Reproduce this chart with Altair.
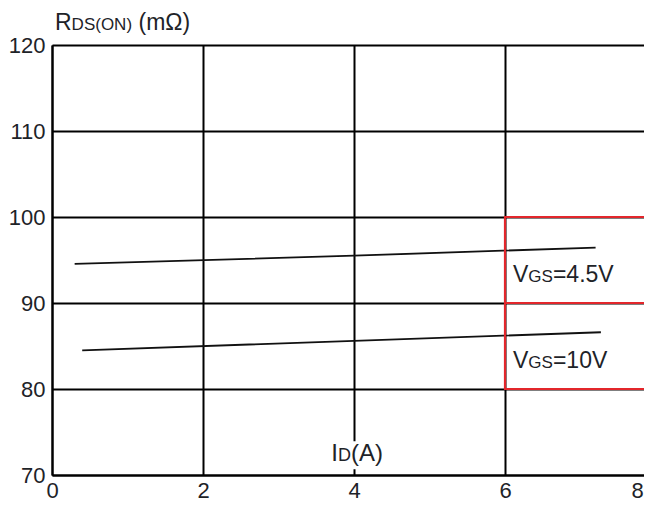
import altair as alt
import pandas as pd

# ---- data ----
id_45 = [0.30, 4.0, 7.20]
r_45 = [94.55, 95.5, 96.45]
id_10 = [0.40, 4.0, 7.27]
r_10 = [84.5, 85.6, 86.6]

x_ticks = [0, 2, 4, 6, 8]
y_ticks = [70, 80, 90, 100, 110, 120]

box_x = [6, 8]
box_y = [80, 100]
box_mid = [90]

# labels: pieces (text, size, extra gap before) anchored at a data point
lab_pieces = [[("V", 23, 0), ("GS", 17, 0), ("=4.5V", 23, 0)],
              [("V", 23, 0), ("GS", 17, 0), ("=10V", 23, 0)]]
lab_x = [6, 6]
lab_y = [92.4, 82.5]

title_pieces = [("R", 23, 0), ("DS(ON)", 17, 0), ("(mΩ)", 23, 6.5)]
title_x, title_y = 0, 120

xlab_pieces = [("I", 24, 0), ("D", 18, 0), ("(A)", 24, 0)]
xlab_x, xlab_y = 3.70, 71.6
xlab_bg = (4.04, 72.3)

FONT = "Liberation Sans"
TXT = "#1e2328"
RED = "#e3262b"

W = {'R': 722, 'D': 722, 'S': 667, '(': 333, 'O': 778, 'N': 722, ')': 333, ' ': 278,
     'm': 833, 'Ω': 768, 'V': 667, 'G': 778, '=': 584, '4': 556, '.': 278, '5': 556,
     '1': 556, '0': 556, 'I': 278, 'A': 667}


def tw(s, size):
    return sum(W.get(c, 556) for c in s) * size / 1000.0


xs = alt.Scale(domain=[0, 8], range=[0, 604], nice=False, zero=False)
ys = alt.Scale(domain=[70, 120], nice=False, zero=False)
xax = alt.Axis(values=x_ticks, title=None, grid=True, gridColor="#000", gridWidth=2,
               domainColor="#000", domainWidth=2, ticks=False, tickSize=0,
               labelFont=FONT, labelFontSize=22, labelColor=TXT, labelPadding=5,
               format="d", labelFlush=False,
               labelOffset={"condition": {"test": "datum.value == 8", "value": -19}, "value": 0})
yax = alt.Axis(values=y_ticks, title=None, grid=True, gridColor="#000", gridWidth=2,
               domainColor="#000", domainWidth=2, ticks=False, tickSize=0,
               labelFont=FONT, labelFontSize=22, labelColor=TXT, labelPadding=7,
               format="d")


def X(f):
    return alt.X(f, type="quantitative", scale=xs, axis=xax)


def Y(f):
    return alt.Y(f, type="quantitative", scale=ys, axis=yax)


layers = []

lines_df = pd.DataFrame({
    "id": id_45 + id_10,
    "r": r_45 + r_10,
    "s": ["4.5"] * len(id_45) + ["10"] * len(id_10),
})
layers.append(alt.Chart(lines_df).mark_line(color="#111", strokeWidth=1.8).encode(
    x=X("id"), y=Y("r"), detail="s:N"))

box_df = pd.DataFrame({"x1": [box_x[0]], "x2": [box_x[1]], "y1": [box_y[0]], "y2": [box_y[1]]})
layers.append(alt.Chart(box_df).mark_rect(fill=None, stroke=RED, strokeWidth=2.2).encode(
    x=X("x1"), x2="x2", y=Y("y1"), y2="y2"))
mid_df = pd.DataFrame({"x1": [box_x[0]], "x2": [box_x[1]], "y": box_mid})
layers.append(alt.Chart(mid_df).mark_rule(color=RED, strokeWidth=2.2).encode(
    x=X("x1"), x2="x2", y=Y("y")))

bg_df = pd.DataFrame({"x": [xlab_bg[0]], "y": [xlab_bg[1]]})
layers.append(alt.Chart(bg_df).mark_rect(fill="white", width=58, height=28).encode(
    x=X("x"), y=Y("y")))


def pieces_layers(pieces, x, y, dx0=0, dy=0):
    out = []
    off = dx0
    for txt, size, gap in pieces:
        off += gap
        df = pd.DataFrame({"x": [x], "y": [y], "t": [txt]})
        out.append(alt.Chart(df).mark_text(
            align="left", baseline="alphabetic", dx=off, dy=dy, fontSize=size,
            font=FONT, color=TXT).encode(x=X("x"), y=Y("y"), text="t:N"))
        off += tw(txt, size)
    return out


for pcs, lx, ly in zip(lab_pieces, lab_x, lab_y):
    layers += pieces_layers(pcs, lx, ly, dx0=8)

layers += pieces_layers(title_pieces, title_x, title_y, dx0=3, dy=-15)
layers += pieces_layers(xlab_pieces, xlab_x, xlab_y)

chart = alt.layer(*layers).properties(
    width=592, height=430,
    autosize=alt.AutoSizeParams(type="none"),
    padding={"left": 44, "top": 37, "right": 0, "bottom": 26},
).configure_view(stroke=None).configure(background="white")

chart.save("out.html", embed_options={"renderer": "svg", "actions": False})
